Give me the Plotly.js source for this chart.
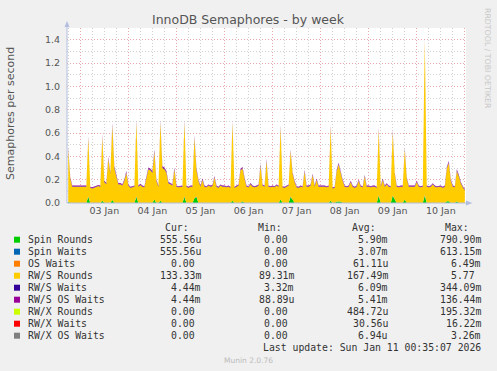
<!DOCTYPE html>
<html><head><meta charset="utf-8">
<script src="https://cdn.plot.ly/plotly-3.0.1.min.js"></script>
<style>html,body{margin:0;padding:0;background:#F0F0F0;} #chart{width:497px;height:371px;}</style>
</head><body><div id="chart"></div>
<script>
// ---------- data ----------
const startHourUTC = [2026, 0, 2, 18];   // first sample: 02 Jan 18:00, hourly samples
const seriesNames = ['Spin Rounds','Spin Waits','OS Waits','RW/S Rounds','RW/S Waits','RW/S OS Waits','RW/X Rounds','RW/X Waits','RW/X OS Waits'];
const seriesColors = ['#00CC00','#0066B3','#FF8000','#FFCC00','#330099','#990099','#CCFF00','#FF0000','#808080'];
const curVals = ['555.56u','555.56u','0.00','133.33m','4.44m','4.44m','0.00','0.00','0.00'];
const minVals = ['0.00','0.00','0.00','89.31m','3.32m','88.89u','0.00','0.00','0.00'];
const avgVals = ['5.90m','3.07m','61.11u','167.49m','6.09m','5.41m','484.72u','30.56u','6.94u'];
const maxVals = ['790.90m','613.15m','6.49m','5.77','344.09m','136.44m','195.32m','16.22m','3.26m'];
const yTicks = [0,0.2,0.4,0.6,0.8,1.0,1.2,1.4];

// RW/S Rounds, hourly (02 Jan 18:00 .. 11 Jan 00:00)
const rwsRounds = [
 0.45,0.21,0.14,0.14,0.135,0.14,
 0.14,0.135,0.14,0.14,0.50,0.13,0.125,0.13,0.14,0.145,0.14,0.55,0.18,0.16,0.38,0.25,0.64,0.30,0.23,0.16,0.16,0.15,0.19,0.26,
 0.15,0.13,0.135,0.14,0.64,0.14,0.155,0.14,0.135,0.21,0.29,0.28,0.26,0.41,0.19,0.14,0.67,0.30,0.29,0.26,0.17,0.16,0.15,0.29,
 0.14,0.135,0.14,0.14,0.64,0.14,0.13,0.14,0.14,0.52,0.23,0.19,0.14,0.20,0.14,0.135,0.15,0.14,0.145,0.22,0.14,0.13,0.15,0.14,
 0.14,0.135,0.14,0.13,0.67,0.13,0.14,0.15,0.28,0.28,0.21,0.14,0.135,0.16,0.14,0.135,0.14,0.15,0.32,0.15,0.14,0.36,0.14,0.135,
 0.14,0.135,0.15,0.14,0.62,0.135,0.13,0.14,0.15,0.39,0.22,0.18,0.135,0.13,0.14,0.135,0.27,0.14,0.14,0.15,0.24,0.14,0.20,0.14,
 0.14,0.145,0.14,0.135,0.14,0.63,0.125,0.13,0.26,0.32,0.24,0.19,0.14,0.135,0.14,0.18,0.14,0.13,0.14,0.19,0.14,0.135,0.23,0.14,
 0.14,0.135,0.14,0.14,0.13,0.56,0.14,0.20,0.14,0.16,0.14,0.135,0.54,0.22,0.14,0.135,0.14,0.14,0.43,0.21,0.14,0.14,0.145,0.14,
 0.18,0.14,0.135,0.14,1.32,0.14,0.135,0.14,0.16,0.14,0.135,0.14,0.14,0.13,0.14,0.28,0.33,0.19,0.14,0.135,0.26,0.23,0.17,0.135,
 0.11
];
const rwsWaits = [
 0.007,0.005,0.004,0.004,0.004,0.004,
 0.004,0.004,0.004,0.004,0.007,0.004,0.004,0.004,0.004,0.004,0.004,0.007,0.005,0.005,0.006,0.005,0.008,0.006,0.005,0.005,0.005,0.005,0.005,0.006,
 0.004,0.004,0.004,0.004,0.007,0.004,0.004,0.004,0.004,0.005,0.006,0.006,0.006,0.007,0.005,0.004,0.007,0.006,0.006,0.006,0.005,0.005,0.005,0.006,
 0.004,0.004,0.004,0.004,0.007,0.004,0.004,0.004,0.004,0.007,0.006,0.005,0.004,0.005,0.004,0.004,0.004,0.004,0.004,0.005,0.004,0.004,0.004,0.004,
 0.004,0.004,0.004,0.004,0.007,0.004,0.004,0.004,0.006,0.006,0.005,0.004,0.004,0.005,0.004,0.004,0.004,0.004,0.006,0.004,0.004,0.006,0.004,0.004,
 0.004,0.004,0.004,0.004,0.007,0.004,0.004,0.004,0.004,0.006,0.005,0.005,0.004,0.004,0.004,0.004,0.005,0.004,0.004,0.004,0.005,0.004,0.005,0.004,
 0.004,0.004,0.004,0.004,0.004,0.007,0.004,0.004,0.006,0.006,0.006,0.005,0.004,0.004,0.004,0.005,0.004,0.004,0.004,0.005,0.004,0.004,0.005,0.004,
 0.004,0.004,0.004,0.004,0.004,0.007,0.004,0.005,0.004,0.004,0.004,0.004,0.007,0.005,0.004,0.004,0.004,0.004,0.006,0.005,0.004,0.004,0.004,0.004,
 0.005,0.004,0.004,0.004,0.009,0.004,0.004,0.004,0.004,0.004,0.004,0.004,0.004,0.004,0.004,0.006,0.007,0.005,0.004,0.004,0.006,0.006,0.005,0.004,
 0.004
];
const rwsOsWaits = [
 0.009,0.006,0.005,0.005,0.005,0.005,
 0.005,0.005,0.005,0.005,0.009,0.005,0.005,0.005,0.005,0.005,0.005,0.009,0.007,0.006,0.008,0.007,0.010,0.008,0.007,0.006,0.006,0.006,0.006,0.008,
 0.005,0.005,0.005,0.005,0.009,0.005,0.005,0.005,0.005,0.007,0.008,0.008,0.008,0.009,0.006,0.005,0.009,0.008,0.008,0.008,0.006,0.006,0.006,0.008,
 0.005,0.005,0.005,0.005,0.009,0.005,0.005,0.005,0.005,0.009,0.008,0.006,0.005,0.006,0.005,0.005,0.005,0.005,0.005,0.006,0.005,0.005,0.005,0.005,
 0.005,0.005,0.005,0.005,0.009,0.005,0.005,0.005,0.008,0.008,0.006,0.005,0.005,0.006,0.005,0.005,0.005,0.005,0.008,0.005,0.005,0.008,0.005,0.005,
 0.005,0.005,0.005,0.005,0.009,0.005,0.005,0.005,0.005,0.008,0.007,0.006,0.005,0.005,0.005,0.005,0.007,0.005,0.005,0.005,0.006,0.005,0.006,0.005,
 0.005,0.005,0.005,0.005,0.005,0.009,0.005,0.005,0.008,0.008,0.008,0.006,0.005,0.005,0.005,0.006,0.005,0.005,0.005,0.006,0.005,0.005,0.006,0.005,
 0.005,0.005,0.005,0.005,0.005,0.009,0.005,0.006,0.005,0.005,0.005,0.005,0.009,0.007,0.005,0.005,0.005,0.005,0.008,0.006,0.005,0.005,0.005,0.005,
 0.006,0.005,0.005,0.005,0.012,0.005,0.005,0.005,0.005,0.005,0.005,0.005,0.005,0.005,0.005,0.008,0.009,0.006,0.005,0.005,0.008,0.007,0.006,0.005,
 0.005
];
// sparse series: hour index -> value (zero elsewhere)
const spinRoundsHours = [0,10,17,22,34,43,46,58,63,64,82,87,106,111,112,131,134,135,136,155,162,163,168,178,189,190,194];
const spinRoundsVals  = [0.012,0.05,0.02,0.025,0.05,0.03,0.02,0.05,0.04,0.05,0.02,0.015,0.03,0.05,0.03,0.02,0.012,0.012,0.012,0.06,0.06,0.03,0.03,0.06,0.015,0.015,0.015];
const spinWaitsHours = [10,34,58,64,111,155,162,178];
const spinWaitsVals  = [0.005,0.005,0.005,0.005,0.005,0.006,0.005,0.006];
const osWaitsHours = [178];
const osWaitsVals  = [0.003];
const rwxRoundsHours = [178];
const rwxRoundsVals  = [0.004];
const rwxWaitsHours = [178];
const rwxWaitsVals  = [0.001];
const rwxOsWaitsHours = [178];
const rwxOsWaitsVals  = [0.0005];

// ---------- build ----------
const N = rwsRounds.length;
const t0 = Date.UTC(startHourUTC[0], startHourUTC[1], startHourUTC[2], startHourUTC[3]);
const times = [];
for (let h = 0; h < N; h++) times.push(new Date(t0 + h*3600000).toISOString().slice(0,16).replace('T',' '));
function expand(hours, vals){ const a = new Array(N).fill(0); hours.forEach((h,i)=>{a[h]=vals[i];}); return a; }
const seriesData = [
  expand(spinRoundsHours, spinRoundsVals),
  expand(spinWaitsHours, spinWaitsVals),
  expand(osWaitsHours, osWaitsVals),
  rwsRounds, rwsWaits, rwsOsWaits,
  expand(rwxRoundsHours, rwxRoundsVals),
  expand(rwxWaitsHours, rwxWaitsVals),
  expand(rwxOsWaitsHours, rwxOsWaitsVals)
];
const traces = seriesData.map((y,i)=>({
  type:'scatter', mode:'lines', x: times, y: y, stackgroup:'one',
  line:{width:0, color: seriesColors[i]}, fillcolor: seriesColors[i],
  hoverinfo:'skip', showlegend:false
}));

// layout geometry (pixels)
const W=497, H=371, L=67, R=466, T=28, B=203;
const px = x => (x - L)/(R - L);
const py = y => (B - y)/(B - T);
const mono = 'DejaVu Sans Mono, monospace';
const txtColor = '#333333';
const annotations = [];
const shapes = [];
// title
annotations.push({xref:'paper',yref:'paper',x:px(248),y:py(19),text:'InnoDB Semaphores - by week',showarrow:false,
  font:{family:'DejaVu Sans',size:12.5,color:'#555555'},xanchor:'center',yanchor:'middle'});
// y title
annotations.push({xref:'paper',yref:'paper',x:px(10),y:py(114),text:'Semaphores per second',showarrow:false,textangle:-90,
  font:{family:'DejaVu Sans',size:11,color:'#555555'},xanchor:'center',yanchor:'middle'});
// right vertical text
annotations.push({xref:'paper',yref:'paper',x:px(487),y:py(58),text:'RRDTOOL / TOBI OETIKER',showarrow:false,textangle:90,
  font:{family:'DejaVu Sans',size:7.8,color:'#C8C8C8'},xanchor:'center',yanchor:'middle'});
// legend header
const colRight = [203, 296, 389.5, 482.5];
['Cur:','Min:','Avg:','Max:'].forEach((h,j)=>{
  annotations.push({xref:'paper',yref:'paper',x:px(colRight[j]-12),y:py(227.5),text:h,showarrow:false,
    font:{family:mono,size:9.8,color:txtColor},xanchor:'right',yanchor:'middle'});
});
const fmt = s => /[0-9]$/.test(s) ? s + '\u00A0' : s;
seriesNames.forEach((name,i)=>{
  const yy = 239.7 + 12*i;
  shapes.push({type:'rect',xref:'paper',yref:'paper',x0:px(14),x1:px(20),y0:py(yy-3),y1:py(yy+3),
    fillcolor:seriesColors[i],line:{width:0}});
  annotations.push({xref:'paper',yref:'paper',x:px(26),y:py(yy),text:name.replace(/ /g,'\u00A0'),showarrow:false,
    font:{family:mono,size:9.8,color:txtColor},xanchor:'left',yanchor:'middle'});
  [curVals[i],minVals[i],avgVals[i],maxVals[i]].forEach((v,j)=>{
    annotations.push({xref:'paper',yref:'paper',x:px(colRight[j]),y:py(yy),text:fmt(v),showarrow:false,
      font:{family:mono,size:9.8,color:txtColor},xanchor:'right',yanchor:'middle'});
  });
});
annotations.push({xref:'paper',yref:'paper',x:px(482.5),y:py(347.7),text:'Last update: Sun Jan 11 00:35:07 2026'.replace(/ /g,'\u00A0'),showarrow:false,
  font:{family:mono,size:9.8,color:txtColor},xanchor:'right',yanchor:'middle'});
annotations.push({xref:'paper',yref:'paper',x:px(248),y:py(360),text:'Munin 2.0.76',showarrow:false,
  font:{family:'DejaVu Sans',size:7.5,color:'#BBBBBB'},xanchor:'center',yanchor:'middle'});
// axis arrows
const axisCol = '#B4BEE0';
shapes.push({type:'line',xref:'paper',yref:'paper',x0:0,x1:0,y0:0,y1:py(23),line:{color:axisCol,width:1}});
shapes.push({type:'path',xref:'paper',yref:'paper',path:`M ${px(64.5)} ${py(27)} L ${px(69.5)} ${py(27)} L ${px(67)} ${py(21)} Z`,fillcolor:axisCol,line:{width:0}});
shapes.push({type:'line',xref:'paper',yref:'paper',x0:0,x1:px(470),y0:0,y1:0,line:{color:axisCol,width:1}});
shapes.push({type:'path',xref:'paper',yref:'paper',path:`M ${px(466)} ${py(200.5)} L ${px(466)} ${py(205.5)} L ${px(472.5)} ${py(203)} Z`,fillcolor:axisCol,line:{width:0}});

const layout = {
  width:W, height:H, paper_bgcolor:'#F0F0F0', plot_bgcolor:'#FFFFFF',
  margin:{l:L, r:W-R, t:T, b:H-B, pad:0},
  showlegend:false,
  font:{family:'DejaVu Sans', color:'#555555'},
  xaxis:{type:'date', range:['2026-01-02 17:22','2026-01-11 00:35'], tick0:'2026-01-03', dtick:86400000,
    tickformat:'%d %b', ticklabelmode:'period', ticks:'', showline:false, zeroline:false,
    showgrid:true, gridcolor:'#EBA8A8', griddash:'1px,2px', gridwidth:1,
    tickfont:{family:'DejaVu Sans', size:9.5, color:'#555555'},
    minor:{dtick:6*3600000, showgrid:true, gridcolor:'#D0D0D0', griddash:'1px,2px', gridwidth:1},
    fixedrange:true},
  yaxis:{range:[0,1.5], tickvals:yTicks, tickformat:'.1f', ticks:'', showline:false, zeroline:false,
    showgrid:true, gridcolor:'#EBA8A8', griddash:'1px,2px', gridwidth:1, ticklabelstandoff:6,
    tickfont:{family:'DejaVu Sans', size:9.5, color:'#555555'},
    minor:{dtick:0.1, showgrid:true, gridcolor:'#D0D0D0', griddash:'1px,2px', gridwidth:1},
    fixedrange:true},
  annotations: annotations,
  shapes: shapes
};
Plotly.newPlot('chart', traces, layout, {staticPlot:true, displayModeBar:false});
</script>
</body></html>
